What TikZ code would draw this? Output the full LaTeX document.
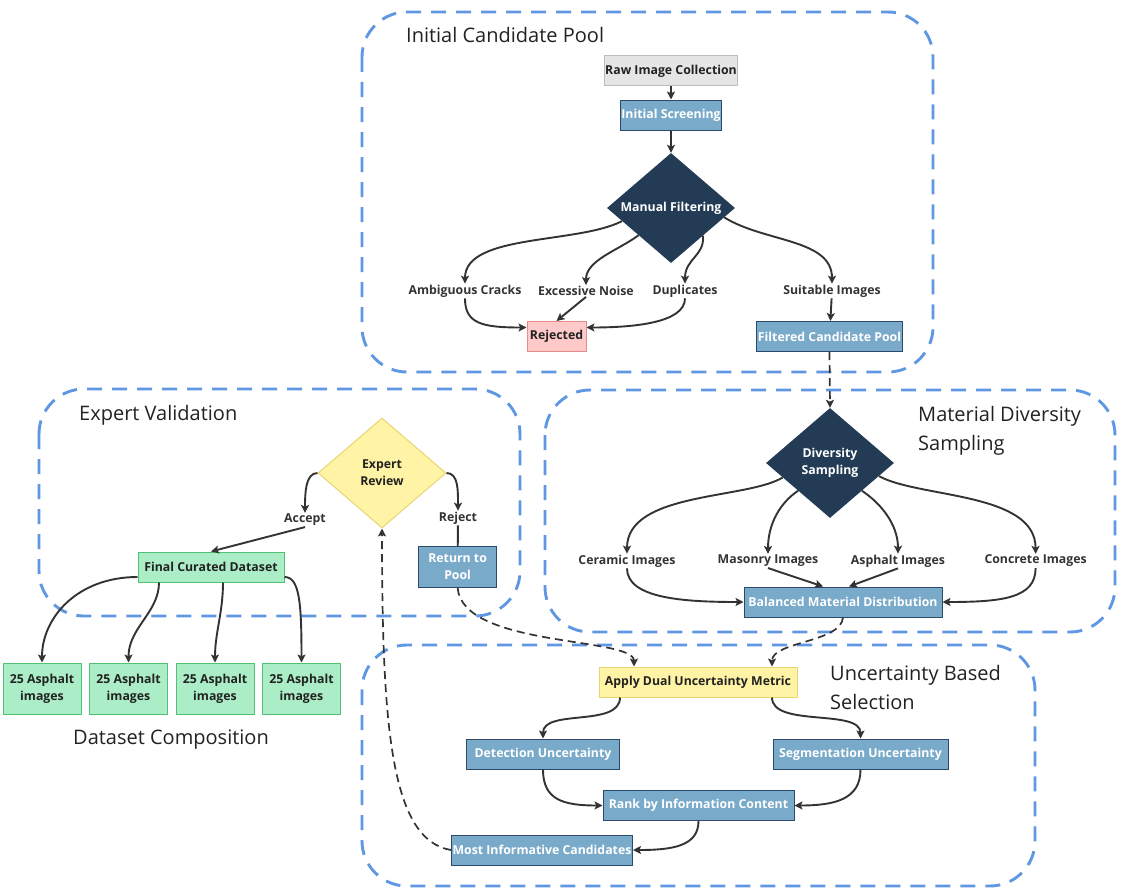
\documentclass[tikz,border=0pt]{standalone}
\usepackage{fontspec}
\setmainfont{Open Sans}
\usetikzlibrary{arrows.meta}
\usetikzlibrary{shapes.geometric}
\usetikzlibrary{positioning}

\definecolor{poolblue}{HTML}{5F97E3}
\definecolor{edgegray}{HTML}{333333}
\definecolor{titlegray}{HTML}{222222}
\definecolor{stepfill}{HTML}{7AAAC9}
\definecolor{stepedge}{HTML}{2C4B69}
\definecolor{navy}{HTML}{243B55}
\definecolor{rawfill}{HTML}{E5E5E5}
\definecolor{rawedge}{HTML}{BDBDBD}
\definecolor{rejfill}{HTML}{FFC9C9}
\definecolor{rejedge}{HTML}{E58C8C}
\definecolor{goodfill}{HTML}{AAEDC6}
\definecolor{goodedge}{HTML}{52C174}
\definecolor{metricfill}{HTML}{FFF3A6}
\definecolor{metricedge}{HTML}{E8D571}

\begin{document}
\begin{tikzpicture}[x=1pt,y=-1pt,
    every node/.style={font=\fontsize{12.3}{17}\selectfont\bfseries},
    stepbox/.style={draw=stepedge, fill=stepfill, text=white, line width=1pt, inner sep=1pt, minimum height=30pt, align=center},
    rawbox/.style={stepbox, draw=rawedge, fill=rawfill, text=titlegray},
    rejbox/.style={stepbox, draw=rejedge, fill=rejfill, text=titlegray},
    goodbox/.style={stepbox, draw=goodedge, fill=goodfill, text=titlegray},
    metricbox/.style={stepbox, draw=metricedge, fill=metricfill, text=titlegray},
    darkdia/.style={diamond, aspect=1.16, fill=navy, text=white, inner sep=0pt, minimum width=128pt, minimum height=110pt, align=center},
    reviewdia/.style={darkdia, draw=metricedge, line width=1pt, fill=metricfill, text=titlegray},
    lbl/.style={text=edgegray, inner sep=1pt},
    flow/.style={draw=edgegray, line width=1.9pt, -{Stealth[length=8pt,width=8pt,inset=1.8pt]}},
    link/.style={draw=edgegray, line width=1.9pt},
    dflow/.style={flow, line width=1.7pt, dash pattern=on 8pt off 5pt},
    pool/.style={draw=poolblue, line width=2.9pt, dash pattern=on 15pt off 10pt, rounded corners=45pt},
    pooltitle/.style={font=\fontsize{20}{29}\selectfont, text=titlegray, inner sep=0pt, align=left}]

  \useasboundingbox (0,0) rectangle (1122,891);

  % group frames
  \draw[pool] (362,12) rectangle (933,372);
  \draw[pool] (39,389) rectangle (520,616);
  \draw[pool] (545,390) rectangle (1115,632);
  \draw[pool] (362,645) rectangle (1035,886);

  \node[pooltitle, anchor=west] (t1) at (406,35) {Initial Candidate Pool};
  \node[pooltitle, anchor=west] (t2) at (79,415) {Expert Validation};
  \node[pooltitle, anchor=north west] (t3) at (918,406) {Material Diversity\\Sampling};
  \node[pooltitle, anchor=north west] (t4) at (830,665) {Uncertainty Based\\Selection};
  \node[pooltitle, anchor=center] (t5) at (171,740) {Dataset Composition};

  % initial candidate pool
  \node[rawbox, minimum width=133pt] (raw) at (671,71) {Raw Image Collection};
  \node[stepbox, minimum width=101pt] (scr) at (671,115) {Initial Screening};
  \node[darkdia] (mf) at (671,208) {Manual Filtering};
  \node[lbl] (amb) at (465,291) {Ambiguous Cracks};
  \node[lbl] (noise) at (586,291) {Excessive Noise};
  \node[lbl] (dup) at (685,291) {Duplicates};
  \node[lbl] (suit) at (832,291) {Suitable Images};
  \node[rejbox, minimum width=59pt] (rej) at (556.5,336.5) {Rejected};
  \node[stepbox, minimum width=145pt] (filt) at (829.5,336.5) {Filtered Candidate Pool};

  \draw[flow] (raw) -- (scr);
  \draw[flow] (scr) -- (mf);
  \draw[flow] (mf.195) .. controls +(-45,23) and +(0,-50) .. (amb.north);
  \draw[flow] (mf.220) .. controls +(-20,15) and +(0,-25) .. (noise.north);
  \draw[flow] (mf.319) .. controls +(2,20) and +(0,-25) .. (dup.north);
  \draw[flow] (mf.350) .. controls +(40,25) and +(0,-45) .. (suit.north);
  \draw[flow] (amb.south) .. controls +(0,25) and +(-45,0) .. ([yshift=9pt]rej.west);
  \draw[flow] (noise.south) -- (rej.north);
  \draw[flow] (dup.south) .. controls +(0,25) and +(45,0) .. ([yshift=9pt]rej.east);
  \draw[flow] (suit) -- (filt);

  % material diversity sampling
  \node[darkdia] (ds) at (830,463) {Diversity\\Sampling};
  \node[lbl] (cer) at (627,561) {Ceramic Images};
  \node[lbl] (mas) at (768,561) {Masonry Images};
  \node[lbl] (asp) at (898,561) {Asphalt Images};
  \node[lbl] (con) at (1035.6,561) {Concrete Images};
  \node[stepbox, minimum width=198pt] (bal) at (843,602) {Balanced Material Distribution};

  \draw[dflow] (filt.south) -- (ds.north);
  \draw[flow] (ds.197) .. controls +(-36,22) and +(0,-62) .. (cer.north);
  \draw[flow] (ds.221) .. controls +(-18,12) and +(0,-30) .. (mas.north);
  \draw[flow] (ds.319) .. controls +(18,12) and +(0,-30) .. (asp.north);
  \draw[flow] (ds.345) .. controls +(40,22) and +(0,-62) .. (con.north);
  \draw[flow] (cer.south) .. controls +(0,30) and +(-60,0) .. (bal.west);
  \draw[flow] (mas.south) -- ([xshift=-20pt]bal.north);
  \draw[flow] (asp.south) -- ([xshift=6pt]bal.north);
  \draw[flow] (con.south) .. controls +(0,30) and +(60,0) .. (bal.east);

  % uncertainty based selection
  \node[metricbox, minimum width=198pt] (ad) at (698,682) {Apply Dual Uncertainty Metric};
  \node[stepbox, minimum width=153pt] (det) at (543,754) {Detection Uncertainty};
  \node[stepbox, minimum width=175pt] (seg) at (860.5,754) {Segmentation Uncertainty};
  \node[stepbox, minimum width=191pt] (rank) at (698.5,805.5) {Rank by Information Content};
  \node[stepbox, minimum width=181pt] (mic) at (542,850) {Most Informative Candidates};

  \draw[dflow] (bal.south) .. controls +(-2,25) and +(0,-25) .. ([xshift=74pt]ad.north);
  \draw[flow] ([xshift=-78pt]ad.south) .. controls +(0,30) and +(0,-30) .. (det.north);
  \draw[flow] ([xshift=74pt]ad.south) .. controls +(0,30) and +(0,-30) .. (seg.north);
  \draw[flow] (det.south) .. controls +(0,30) and +(-40,0) .. (rank.west);
  \draw[flow] (seg.south) .. controls +(0,30) and +(40,0) .. (rank.east);
  \draw[flow] (rank.south) .. controls +(0,25) and +(40,0) .. (mic.east);

  % expert validation
  \node[reviewdia] (er) at (382,473) {Expert\\Review};
  \node[lbl] (acc) at (305,520) {Accept};
  \node[lbl] (rjt) at (458,518) {Reject};
  \node[goodbox, minimum width=146pt] (fcd) at (211,567) {Final Curated Dataset};
  \node[stepbox, minimum width=78pt, minimum height=40.6pt] (ret) at (457.6,567) {Return to\\Pool};

  \draw[dflow] (mic.west) .. controls +(-60,-10) and +(0,200) .. (er.south);
  \draw[flow] (er.west) .. controls +(-12,0) and +(0,-20) .. (acc.north);
  \draw[flow] (er.east) .. controls +(12,0) and +(0,-20) .. (rjt.north);
  \draw[flow] (acc.south) -- (fcd.north);
  \draw[link] (rjt) -- (ret);
  \draw[dflow] (ret.south) .. controls +(5,60) and +(0,-30) .. ([xshift=-64pt]ad.north);

  % dataset composition
  \foreach \i/\x in {1/42,2/128.5,3/215,4/301.5}
    \node[goodbox, minimum width=78pt, minimum height=51pt] (a\i) at (\x,688.5) {25 Asphalt\\images};

  \draw[flow] ([yshift=-10pt]fcd.west) .. controls +(-60,0) and +(0,-45) .. (a1.north);
  \draw[flow] ([xshift=-52pt]fcd.south) .. controls +(0,30) and +(0,-35) .. (a2.north);
  \draw[flow] ([xshift=12pt]fcd.south) .. controls +(0,30) and +(0,-30) .. (a3.north);
  \draw[flow] ([yshift=-10pt]fcd.east) .. controls +(15,0) and +(0,-60) .. (a4.north);
\end{tikzpicture}
\end{document}
